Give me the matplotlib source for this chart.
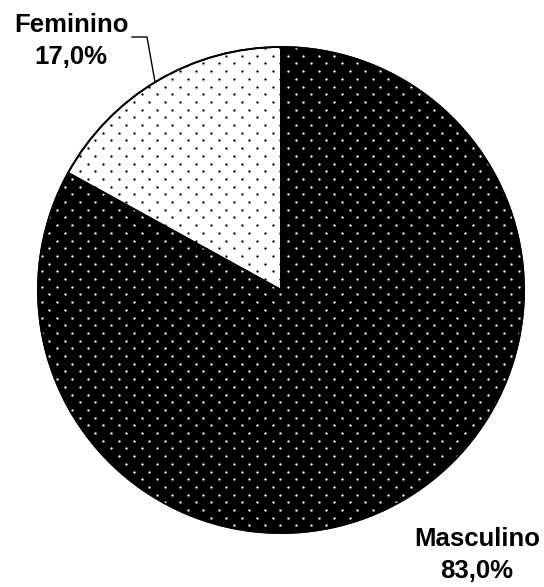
import numpy as np
import matplotlib.pyplot as plt
from matplotlib.patches import Wedge

labels = ['Masculino', 'Feminino']
values = [83.0, 17.0]
faces = ['black', 'white']
dots = ['white', 'black']

fig = plt.figure(figsize=(5.44, 5.87), dpi=100)
ax = fig.add_axes([0, 0, 1, 1])

cx, cy, r = 281, 297, 243
wedges, _ = ax.pie(values, colors=faces, startangle=90, counterclock=False,
                   center=(cx, cy), radius=r, frame=True,
                   wedgeprops=dict(edgecolor='black', linewidth=1.3))
ax.set_xlim(0, 544)
ax.set_ylim(0, 587)
ax.set_aspect('equal')
ax.axis('off')

# dot texture (staggered grid)
gx, gy = [], []
for k, yy in enumerate(np.arange(0, 587, 7.7)):
    xs = np.arange(3 + (k % 2) * 7.7, 544, 15.4)
    gx.extend(xs)
    gy.extend([yy] * len(xs))

for w, dc in zip(wedges, dots):
    sc = ax.scatter(gx, gy, s=2.8, c=dc, marker='o', linewidths=0, zorder=2)
    sc.set_clip_path(w)
    o = Wedge(w.center, w.r, w.theta1, w.theta2, fill=False,
              edgecolor='black', linewidth=1.3, zorder=3)
    ax.add_patch(o)

fnt = dict(family='Liberation Sans', weight='bold', fontsize=18.5, ha='center', va='center')
ax.text(71, 587 - 41, f'{labels[1]}\n{values[1]:.1f}%'.replace('.', ','), linespacing=1.45, **fnt)
ax.text(477, 587 - 555, f'{labels[0]}\n{values[0]:.1f}%'.replace('.', ','), linespacing=1.45, **fnt)
ax.plot([132, 147, 155], [587 - 37, 587 - 37, 587 - 82], color='black', linewidth=1)

fig.savefig('out.png', dpi=100)
